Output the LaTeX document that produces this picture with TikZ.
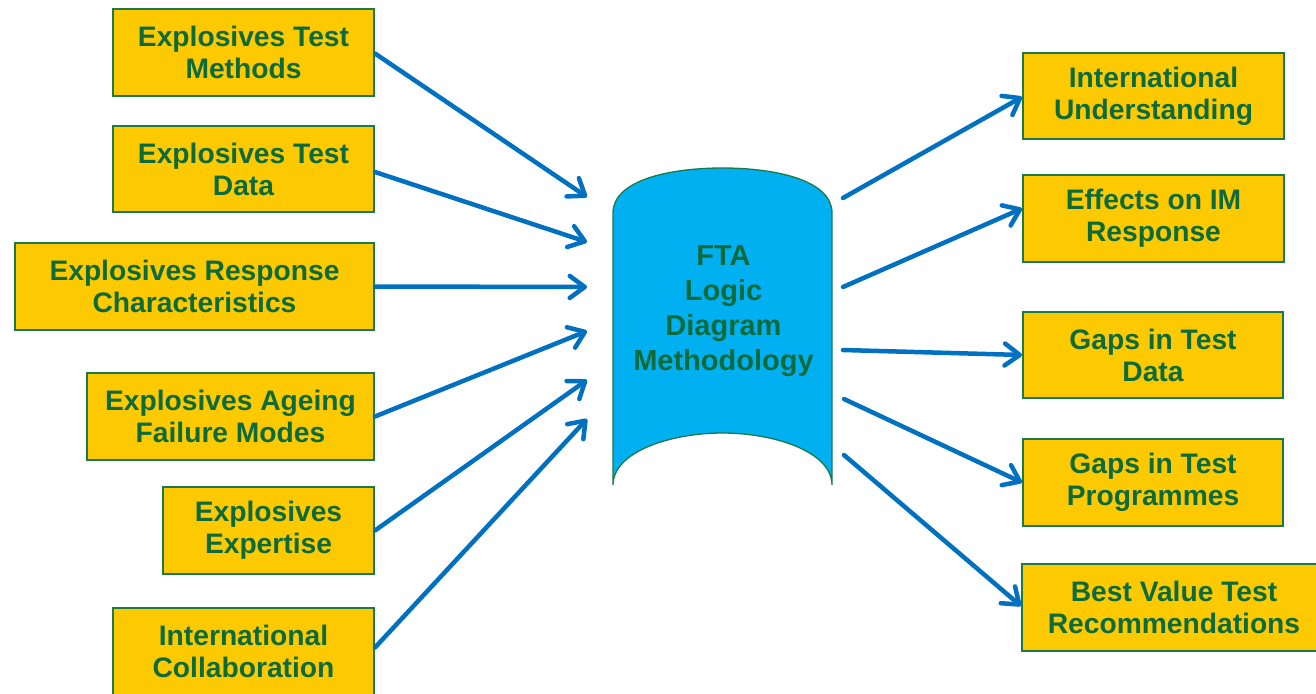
\documentclass[tikz,border=0pt]{standalone}
\usepackage{fontspec}
\setmainfont{Liberation Sans}
\usetikzlibrary{arrows.meta}
\definecolor{cBox}{HTML}{FDC900}
\definecolor{cEdge}{HTML}{1B7A48}
\definecolor{cText}{HTML}{0D6B3B}
\definecolor{cDrum}{HTML}{00B0F0}
\definecolor{cArrow}{HTML}{0070C0}
\tikzset{
	box/.style={draw=cEdge, line width=2pt, fill=cBox, text=cText, inner sep=0pt,
		align=center, font=\fontsize{28.2}{32}\selectfont\bfseries},
	link/.style={cArrow, line width=4.5pt, line cap=round,
		-{Straight Barb[length=15pt,width=22pt,round]}}
}

\begin{document}
\begin{tikzpicture}[x=1pt,y=-1pt]
			\useasboundingbox (0,0) rectangle (1316,693);
			% inputs
			\node[box, minimum width=261pt, minimum height=87pt] (tm) at (243.5,52.5) {Explosives Test\\Methods};
			\node[box, minimum width=261pt, minimum height=86pt] (td) at (243.5,169) {Explosives Test\\Data};
			\node[box, minimum width=359pt, minimum height=87pt] (rc) at (194.5,286.5) {Explosives Response\\Characteristics};
			\node[box, minimum width=287pt, minimum height=87pt] (af) at (230.5,416.5) {Explosives Ageing\\Failure Modes};
			\node[box, minimum width=211pt, minimum height=87pt] (ex) at (268.5,530.5) {Explosives\\Expertise};
			\node[box, minimum width=261pt, minimum height=87pt] (ic) at (243.5,651.5) {International\\Collaboration};
			% drum
			\draw [cEdge, line width=1.3pt, fill=cDrum] (613,213) .. controls (613,180) and (670,168) .. (722.5,168)
				.. controls (775,168) and (832,180) .. (832,213) -- (832,485)
				.. controls (832,452) and (775,433) .. (722.5,433)
				.. controls (670,433) and (613,452) .. (613,485) -- cycle;
			\node [text=cText, align=center, font=\fontsize{29}{35}\selectfont\bfseries] (fta) at (723.5,311) {FTA\\Logic\\Diagram\\Methodology};
			% outputs
			\node[box, minimum width=261pt, minimum height=86pt] (iu) at (1153.5,96) {International\\Understanding};
			\node[box, minimum width=261pt, minimum height=87pt] (im) at (1153.5,218.5) {Effects on IM\\Response};
			\node[box, minimum width=260pt, minimum height=86pt] (gd) at (1153,355) {Gaps in Test\\Data};
			\node[box, minimum width=260pt, minimum height=87pt] (gp) at (1153,482.5) {Gaps in Test\\Programmes};
			\node[box, minimum width=304pt, minimum height=87pt] (bv) at (1174,607) {Best Value Test\\Recommendations};
			% arrow ends at the drum
			\coordinate (in1) at (587,197);
			\coordinate (in2) at (587,242);
			\coordinate (in3) at (587,287);
			\coordinate (in4) at (587,331);
			\coordinate (in5) at (587,380);
			\coordinate (in6) at (587,419);
			\coordinate (out1) at (843,198);
			\coordinate (out2) at (843,287);
			\coordinate (out3) at (843,350);
			\coordinate (out4) at (844,399);
			\coordinate (out5) at (844,455);
			\draw [link] ([yshift=-1pt]tm.east) -- (in1);
			\draw [link] ([yshift=-3pt]td.east) -- (in2);
			\draw [link] (rc.east) -- (in3);
			\draw [link] (af.east) -- (in4);
			\draw [link] (ex.east) -- (in5);
			\draw [link] ([yshift=4pt]ic.east) -- (in6);
			\draw [link] (out1) -- ([yshift=-1pt]iu.west);
			\draw [link] (out2) -- ([yshift=10pt]im.west);
			\draw [link] (out3) -- (gd.west);
			\draw [link] (out4) -- (gp.west);
			\draw [link] (out5) -- ([yshift=1pt]bv.west);
		\end{tikzpicture}
\end{document}
